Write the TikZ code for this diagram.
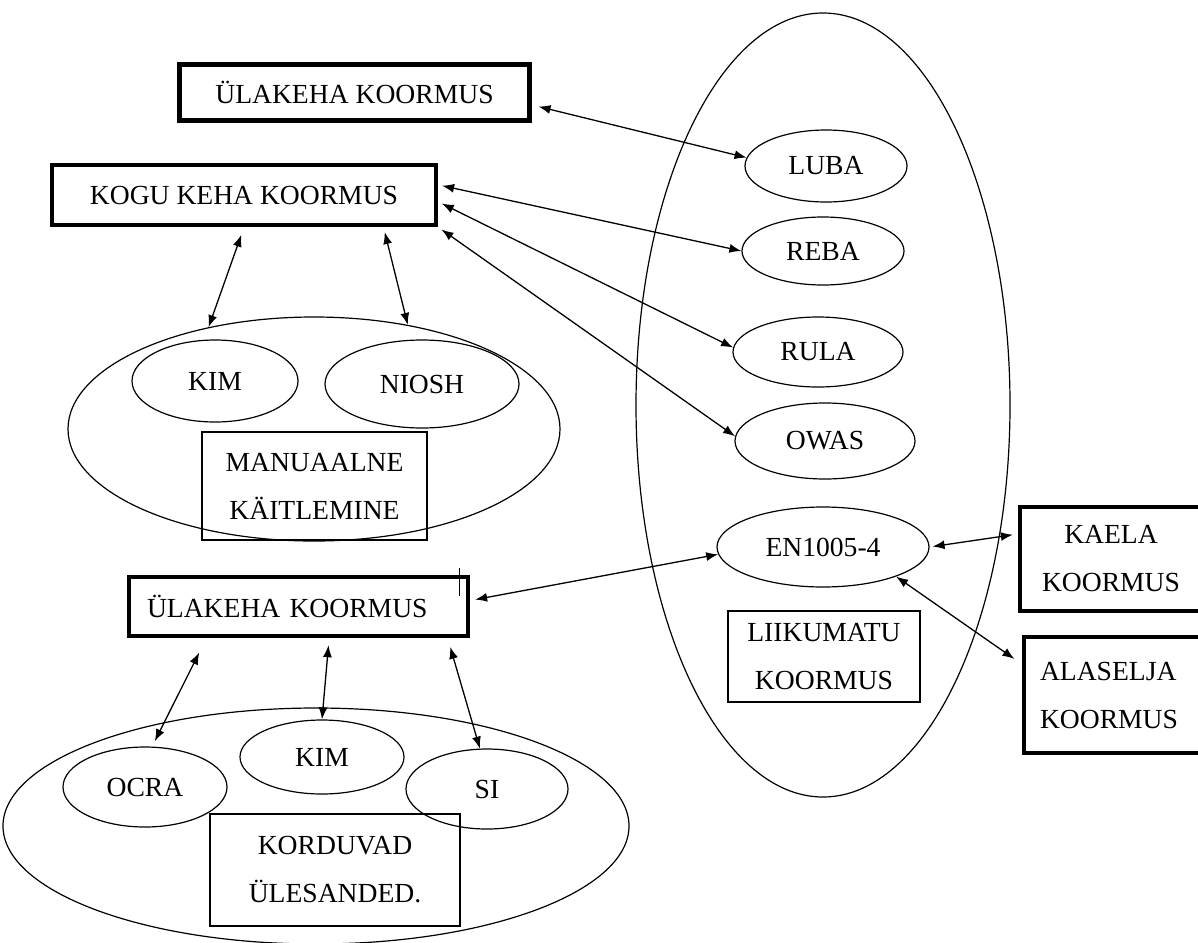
\documentclass[tikz,border=0pt]{standalone}
\usepackage{fontspec}
\setmainfont{Liberation Serif}
\usetikzlibrary{shapes.geometric,arrows.meta}

\begin{document}
\begin{tikzpicture} [
  x=0.5pt, y=-0.5pt,
  every node/.style={font=\fontsize{13.8}{24}\selectfont, inner sep=0pt},
  koormus/.style={rectangle,draw,line width=2.2pt},
  raam/.style={rectangle,draw,line width=0.6pt},
  meetod/.style={ellipse,draw,line width=0.6pt},
  seos/.style={{Latex[length=6pt,width=4.5pt]}-{Latex[length=6pt,width=4.5pt]},line width=0.65pt}]

\useasboundingbox (0,0) rectangle (1198,942);

% liikumatu koormus
\node[meetod, minimum width=187pt, minimum height=392pt] (liik) at (823,405) {};
\node[meetod, minimum width=81pt, minimum height=36pt] (luba) at (826,166) {LUBA};
\node[meetod, minimum width=81pt, minimum height=34pt] (reba) at (823,251) {REBA};
\node[meetod, minimum width=85pt, minimum height=35pt] (rula) at (818,352) {RULA};
\node[meetod, minimum width=90pt, minimum height=38pt] (owas) at (825,441) {OWAS};
\node[meetod, minimum width=106pt, minimum height=40pt] (en) at (823,547) {EN1005-4};
\node[raam, minimum width=96pt, minimum height=45.5pt, align=center] (liikbox) at (824,656.5) {LIIKUMATU\\KOORMUS};

% manuaalne kaitlemine
\node[meetod, minimum width=246pt, minimum height=112pt] (man) at (314,429) {};
\node[meetod, minimum width=83pt, minimum height=41pt] (kim1) at (215,381) {KIM};
\node[meetod, minimum width=97pt, minimum height=44pt] (niosh) at (422,384) {NIOSH};
\node[raam, minimum width=112.5pt, minimum height=54pt, align=center] (manbox) at (314.5,486) {MANUAALNE\\KÄITLEMINE};

% korduvad ulesanded
\node[meetod, minimum width=313pt, minimum height=118pt] (kord) at (316,826) {};
\node[meetod, minimum width=82pt, minimum height=40pt] (ocra) at (145,787) {OCRA};
\node[meetod, minimum width=82pt, minimum height=37pt] (kim2) at (322,757) {KIM};
\node[meetod, minimum width=81pt, minimum height=40pt] (si) at (487,789) {SI};
\node[raam, minimum width=125pt, minimum height=56pt, align=center] (kordbox) at (335,870) {KORDUVAD\\ÜLESANDED.};

% koormused
\node[koormus, minimum width=175pt, minimum height=28pt] (ub1) at (354.5,92.5) {ÜLAKEHA KOORMUS};
\node[koormus, minimum width=192pt, minimum height=30pt] (kogu) at (244,195) {KOGU KEHA KOORMUS};
\node[koormus, minimum height=29.5pt, inner xsep=9pt, text width=151.5pt, align=left] (ub2) at (298.5,606.5) {ÜLAKEHA KOORMUS};
\node[koormus, minimum width=91pt, minimum height=52pt, align=center] (kaela) at (1111,559) {KAELA\\KOORMUS};
\node[koormus, minimum height=58pt, inner xsep=8pt, text width=77pt, align=left] (alas) at (1117,695) {ALASELJA\\KOORMUS};
\draw[line width=0.5pt] ([xshift=-5.5pt,yshift=3.5pt]ub2.north east) -- ++(0,-14pt);

% seosed
\draw[seos, shorten <=3.5pt] (ub1.-4) -- (luba.174);
\draw[seos, shorten <=2pt] (kogu.3) -- (reba.west);
\draw[seos, shorten <=2pt] (kogu.-2) -- (rula.177);
\draw[seos, shorten <=2pt] (kogu.south east) -- (owas.177);
\draw[seos, shorten <=4pt] (kogu.south) -- (man.136);
\draw[seos, shorten <=2.5pt] (kogu.-13) -- (man.48);
\draw[seos, shorten <=2.5pt] (ub2.2) -- (en.184);
\draw[seos, shorten <=1.5pt, shorten >=2.5pt] (en.east) -- (kaela.165);
\draw[seos, shorten >=4.5pt] (en.-22) -- (alas.162);
\draw[seos, shorten <=8pt, shorten >=3pt] (ub2.-161) -- (ocra.80);
\draw[seos, shorten <=3.5pt] (ub2.-46) -- (kim2.north);
\draw[seos, shorten <=4.5pt] (ub2.-12) -- (si.100);
\end{tikzpicture}
\end{document}
